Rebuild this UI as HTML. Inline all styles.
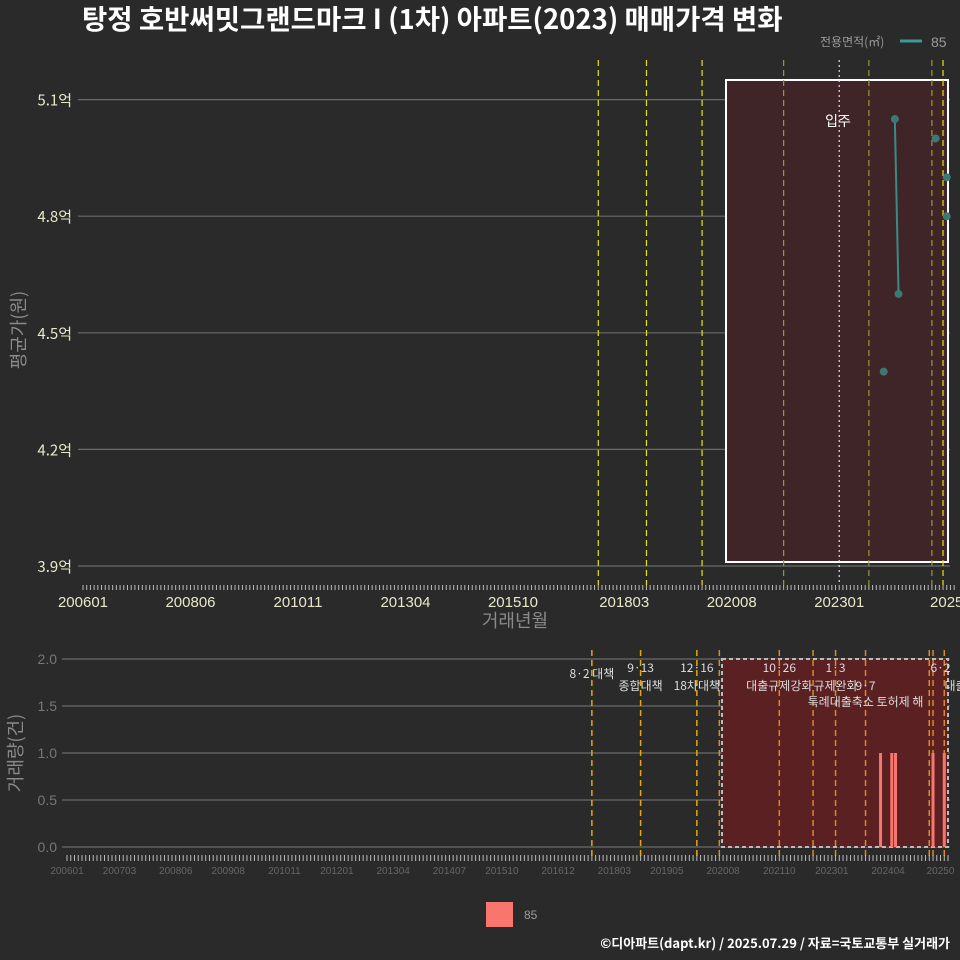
<!DOCTYPE html>
<html><head><meta charset="utf-8">
<style>
html,body{margin:0;padding:0;background:#2a2a2b;}
svg{display:block;font-family:"Liberation Sans","Noto Sans CJK KR",sans-serif;}
</style></head>
<body>
<svg id="chart" width="960" height="960" viewBox="0 0 960 960" xmlns="http://www.w3.org/2000/svg">
<rect width="960" height="960" fill="#2a2a2b"/>
<text x="82" y="29" font-size="27.5" font-weight="bold" fill="#ffffff" font-family="'Noto Sans CJK KR',sans-serif">탕정 호반써밋그랜드마크 I (1차) 아파트(2023) 매매가격 변화</text>
<g>
<text x="820" y="46" font-size="12" fill="#9a9a9a" font-family="'Noto Sans CJK KR',sans-serif">전용면적(㎡)</text>
<line x1="900" y1="41" x2="922" y2="41" stroke="#3a9a96" stroke-width="3"/>
<text x="931" y="47" font-size="14" fill="#9a9a9a">85</text>
</g>
<g id="topPanel"></g>
<g id="botPanel"></g>
<g>
<rect x="486" y="902" width="27" height="25" fill="#f8766d"/>
<text x="524" y="919" font-size="12" fill="#9a9a9a">85</text>
</g>
<text x="950" y="948" text-anchor="end" font-size="13" font-weight="bold" fill="#ffffff" font-family="'Noto Sans CJK KR',sans-serif">©디아파트(dapt.kr) / 2025.07.29 / 자료=국토교통부 실거래가</text>
</svg>
<script>
// data (months counted from 2006-01 = 0)
const priceMonths = [216, 219, 220, 230, 233, 233];
const priceValues = [4.40, 5.05, 4.60, 5.00, 4.90, 4.80];
const lineMonths = [219, 220];
const lineValues = [5.05, 4.60];
const yTicksTop = [3.9, 4.2, 4.5, 4.8, 5.1];
const yTickLabelsTop = ["3.9억", "4.2억", "4.5억", "4.8억", "5.1억"];
const xTickMonthsTop = [0, 29, 58, 87, 116, 146, 175, 204, 233];
const xTickLabelsTop = ["200601", "200806", "201011", "201304", "201510", "201803", "202008", "202301", "2025"];
const eventMonths = [139, 152, 167, 189, 204, 212, 229, 232];
const barMonths = [217, 220, 221, 231, 234];
const barValues = [1, 1, 1, 1, 1];
const yTicksBot = [0, 0.5, 1.0, 1.5, 2.0];
const yTickLabelsBot = ["0.0", "0.5", "1.0", "1.5", "2.0"];
const xTickMonthsBot = [0,14,29,43,58,72,87,102,116,131,146,160,175,190,204,219,233];
const xTickLabelsBot = ["200601","200703","200806","200908","201011","201201","201304","201407","201510","201612","201803","201905","202008","202110","202301","202404","20250"];
const botEventMonths = [140, 153, 168, 174, 190, 199, 205, 213, 230, 231, 234];
const eventLabels1 = [[140,"8·2 대책",678],[153,"9·13",672],[168,"12·16",672],[190,"10·26",672],[205,"1·3",672],[233,"6·2",672]];
const eventLabels2 = [[153,"종합대책",690],[168,"18차대책",690],[190,"대출규제강화",690],[205,"규제완화",690],[213,"9·7",690],[237,"대출",690],[213,"특례대출축소 토허제 해",706]];

const SVGNS = "http://www.w3.org/2000/svg";
function mk(parent, tag, attrs, name) {
  const el = document.createElementNS(SVGNS, tag);
  for (const k in attrs) el.setAttribute(k, attrs[k]);
  
  
  parent.appendChild(el);
  return el;
}
const xT = m => 83 + m * 3.707;
const yT = v => 566 - (v - 3.9) / 0.3 * 116.6;
const topG = document.getElementById('topPanel');
yTicksTop.forEach((v, i) => {
  mk(topG, 'line', {x1: 78, x2: 950, y1: yT(v), y2: yT(v), stroke: '#6a6a6a', 'stroke-width': 1.2}, 'y-gridline');
  const t = mk(topG, 'text', {x: 72, y: yT(v) + 6, 'text-anchor': 'end', 'font-size': 15, fill: '#e8e8c8', 'font-family': "'Noto Sans CJK KR',sans-serif"}, 'y-tick-label');
  t.textContent = yTickLabelsTop[i];
});
mk(topG, 'rect', {x: 726, y: 80, width: 222, height: 482, fill: '#3f2528', stroke: '#ffffff', 'stroke-width': 2}, 'occupancy-region');
eventMonths.forEach((m, i) => {
  const isWhite = (m === 204);
  const bright = (i < 3 || i === 7);
  mk(topG, 'line', {x1: xT(m), x2: xT(m), y1: 60, y2: 585, stroke: isWhite ? '#dddddd' : (bright ? '#e6e600' : '#9a9a30'), 'stroke-width': 1.2, 'stroke-dasharray': isWhite ? '2,3' : '6,4'}, 'event-line');
});
const ip = mk(topG, 'text', {x: 838, y: 126, 'text-anchor': 'middle', 'font-size': 14, fill: '#ffffff', 'font-family': "'Noto Sans CJK KR',sans-serif"}, 'occupancy-label');
ip.textContent = '입주';
mk(topG, 'line', {x1: xT(lineMonths[0]), y1: yT(lineValues[0]), x2: xT(lineMonths[1]), y2: yT(lineValues[1]), stroke: '#3a8a86', 'stroke-width': 2}, 'price-line');
priceMonths.forEach((m, i) => {
  mk(topG, 'circle', {cx: xT(m), cy: yT(priceValues[i]), r: 4, fill: '#3a7a76'}, 'price-point');
});
for (let m = 0; m <= 235; m++) mk(topG, 'line', {x1: xT(m), x2: xT(m), y1: 585, y2: 590, stroke: '#bbbbbb', 'stroke-width': 1}, 'x-minor-tick');
xTickMonthsTop.forEach((m, i) => {
  const t = mk(topG, 'text', {x: xT(m), y: 607, 'text-anchor': 'middle', 'font-size': 15, fill: '#e8e8c8'}, 'x-tick-label');
  t.textContent = xTickLabelsTop[i];
});
const xl = mk(topG, 'text', {x: 515, y: 627, 'text-anchor': 'middle', 'font-size': 18, fill: '#8a8a8a', 'font-family': "'Noto Sans CJK KR',sans-serif"}, 'x-axis-title');
xl.textContent = '거래년월';
const yl = mk(topG, 'text', {x: 25, y: 330, 'text-anchor': 'middle', 'font-size': 18, fill: '#8a8a8a', transform: 'rotate(-90 25 330)', 'font-family': "'Noto Sans CJK KR',sans-serif"}, 'y-axis-title');
yl.textContent = '평균가(원)';

const xB = m => 67 + m * 3.749;
const yB = v => 847 - v * 94;
const botG = document.getElementById('botPanel');
yTicksBot.forEach((v, i) => {
  mk(botG, 'line', {x1: 62, x2: 950, y1: yB(v), y2: yB(v), stroke: '#6a6a6a', 'stroke-width': 1.2}, 'y-gridline');
  const t = mk(botG, 'text', {x: 57, y: yB(v) + 5, 'text-anchor': 'end', 'font-size': 14, fill: '#777777'}, 'y-tick-label');
  t.textContent = yTickLabelsBot[i];
});
mk(botG, 'rect', {x: 722, y: 659, width: 226, height: 188, fill: '#5a2022', stroke: '#bbbbbb', 'stroke-width': 2, 'stroke-dasharray': '4,3'}, 'occupancy-region');
botEventMonths.forEach(m => {
  mk(botG, 'line', {x1: xB(m), x2: xB(m), y1: 650, y2: 858, stroke: m > 173 ? '#d98a20' : '#e6a800', 'stroke-width': 1.5, 'stroke-dasharray': '6,4'}, 'event-line');
});
barMonths.forEach((m, i) => {
  mk(botG, 'rect', {x: xB(m) - 1.5, y: yB(barValues[i]), width: 3, height: yB(0) - yB(barValues[i]), fill: '#f8766d'}, 'volume-bar');
});
eventLabels1.concat(eventLabels2).forEach(e => {
  const t = mk(botG, 'text', {x: xB(e[0]), y: e[2], 'text-anchor': 'middle', 'font-size': 12, fill: '#dddddd', 'font-family': "'Noto Sans CJK KR',sans-serif"}, 'event-label');
  t.textContent = e[1];
});
for (let m = 0; m <= 235; m++) mk(botG, 'line', {x1: xB(m), x2: xB(m), y1: 855, y2: 861, stroke: '#bbbbbb', 'stroke-width': 1}, 'x-minor-tick');
xTickMonthsBot.forEach((m, i) => {
  const t = mk(botG, 'text', {x: xB(m), y: 874, 'text-anchor': 'middle', 'font-size': 10, fill: '#666666'}, 'x-tick-label');
  t.textContent = xTickLabelsBot[i];
});
const yl2 = mk(botG, 'text', {x: 22, y: 753, 'text-anchor': 'middle', 'font-size': 18, fill: '#8a8a8a', transform: 'rotate(-90 22 753)', 'font-family': "'Noto Sans CJK KR',sans-serif"}, 'y-axis-title');
yl2.textContent = '거래량(건)';
</script>
</body></html>
